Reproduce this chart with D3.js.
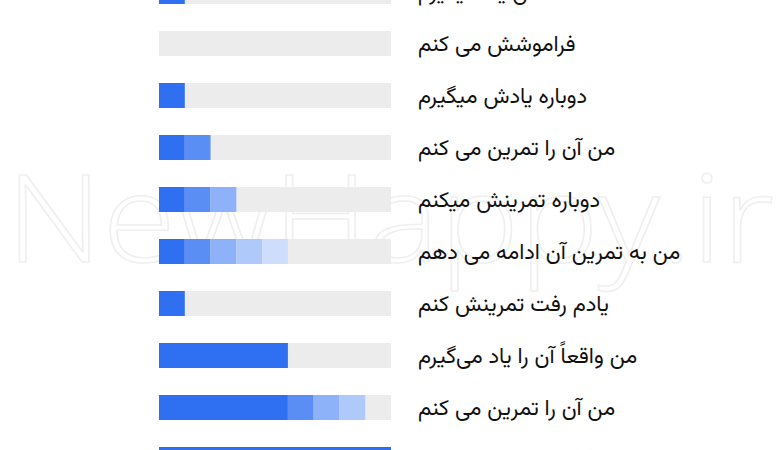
<!DOCTYPE html>
<html>
<head>
<meta charset="utf-8">
<script src="https://cdn.jsdelivr.net/npm/d3@7"></script>
<style>
  html, body { margin: 0; padding: 0; background: #ffffff; }
  svg { display: block; }
</style>
</head>
<body>
<svg id="chart" width="780" height="450"></svg>
<script>
// ---- data ----
const labels = [
  "من یاد میگیرم",
  "فراموشش می کنم",
  "دوباره یادش میگیرم",
  "من آن را تمرین می کنم",
  "دوباره تمرینش میکنم",
  "من به تمرین آن ادامه می دهم",
  "یادم رفت تمرینش کنم",
  "من واقعاً آن را یاد می‌گیرم",
  "من آن را تمرین می کنم",
  "من آن را تدریس می کنم"
];
const level1 = [1, 0, 1, 1, 1, 1, 1, 5, 5, 9];
const level2 = [0, 0, 0, 1, 1, 1, 0, 0, 1, 0];
const level3 = [0, 0, 0, 0, 1, 1, 0, 0, 1, 0];
const level4 = [0, 0, 0, 0, 0, 1, 0, 0, 1, 0];
const level5 = [0, 0, 0, 0, 0, 1, 0, 0, 0, 0];
const maxValue = 9;
const watermark = "NewHappy.ir";

// ---- layout ----
const svg = d3.select("#chart");
const keys = ["l1", "l2", "l3", "l4", "l5"];
const colors = ["#2f6ff2", "#5b8ef5", "#8db2f9", "#b0c9fb", "#cfddfc"];
const rows = labels.map((lab, i) => ({
  label: lab, l1: level1[i], l2: level2[i], l3: level3[i], l4: level4[i], l5: level5[i]
}));

const step = 52, pad = 27 / 52;
const x = d3.scaleLinear().domain([0, maxValue]).range([159, 391]);
const y = d3.scaleBand().domain(d3.range(labels.length))
  .range([-21, -21 + step * (labels.length - pad)])
  .paddingInner(pad).paddingOuter(0).align(0);
const color = d3.scaleOrdinal().domain(keys).range(colors);

// watermark (behind labels, faint)
svg.append("text")
  .attr("x", 6).attr("y", 262)
  .attr("font-family", "'Open Sans', 'DejaVu Sans', sans-serif")
  .attr("font-size", 122)
  .attr("font-weight", 300)
  .attr("textLength", 768)
  .attr("lengthAdjust", "spacingAndGlyphs")
  .attr("fill", "none")
  .attr("stroke", "#efefef").attr("stroke-width", 1.5)
  .text(watermark);

// tracks
svg.append("g").selectAll("rect").data(rows).join("rect")
  .attr("x", x(0)).attr("width", x(maxValue) - x(0))
  .attr("y", (d, i) => y(i)).attr("height", y.bandwidth())
  .attr("fill", "#ececec");

// stacked segments
const stacked = d3.stack().keys(keys)(rows);
svg.append("g").selectAll("g").data(stacked).join("g")
  .attr("fill", d => color(d.key))
  .selectAll("rect").data(d => d.map((v, i) => ({ v, i })).filter(o => o.v[1] > o.v[0]))
  .join("rect")
  .attr("x", o => x(o.v[0])).attr("width", o => x(o.v[1]) - x(o.v[0]))
  .attr("y", o => y(o.i)).attr("height", y.bandwidth());

// labels
svg.append("g").selectAll("text").data(rows).join("text")
  .attr("x", 418)
  .attr("y", (d, i) => y(i) + y.bandwidth() / 2 + 7)
  .attr("direction", "rtl")
  .attr("text-anchor", "end")
  .attr("font-family", "Vazirmatn, 'Noto Sans Arabic', 'DejaVu Sans', sans-serif")
  .attr("font-size", 22)
  .attr("fill", "#111111")
  .text(d => d.label);
</script>
</body>
</html>
